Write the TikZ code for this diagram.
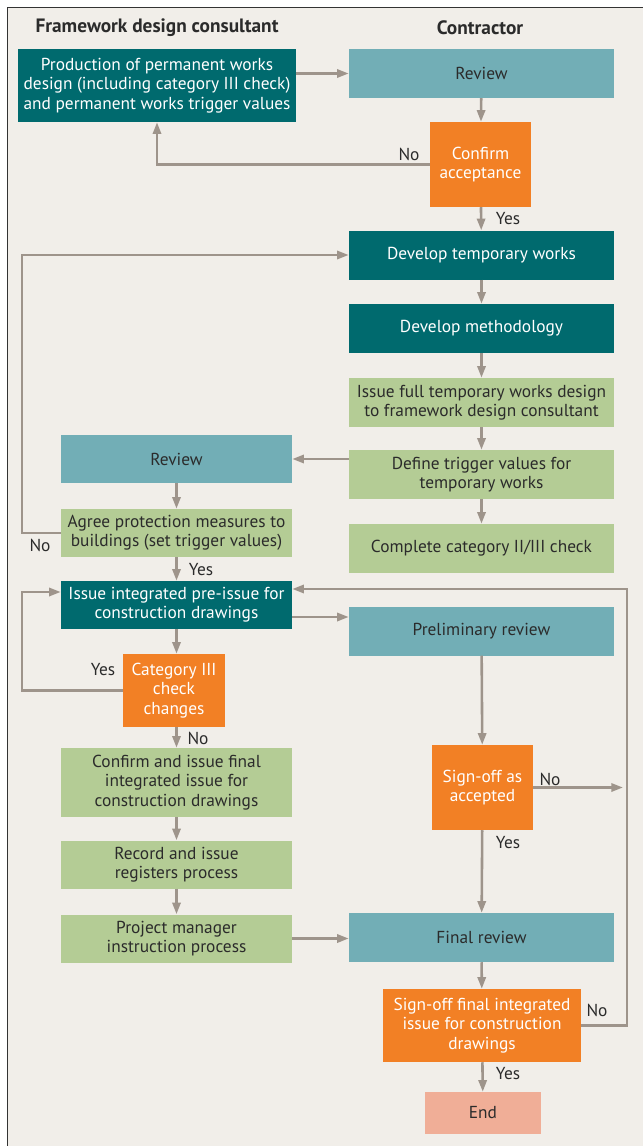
\documentclass[tikz,border=0pt]{standalone}
\usepackage{fontspec}
\setmainfont{PT Sans}
\usepackage{tikz}
\usetikzlibrary{arrows.meta,positioning,calc}

\definecolor{bgbeige}{HTML}{F1EEE9}
\definecolor{framegray}{HTML}{333333}
\definecolor{darkteal}{HTML}{006A6E}
\definecolor{midteal}{HTML}{72AEB6}
\definecolor{lgreen}{HTML}{B4CC95}
\definecolor{dorange}{HTML}{F28025}
\definecolor{salmon}{HTML}{F0AE97}
\definecolor{linegray}{HTML}{9E948B}
\definecolor{txtdark}{HTML}{2B2B2B}

\begin{document}
\begin{tikzpicture}[
		x=0.03cm, y=-0.03cm,
		>={Triangle[length=10pt,width=7pt]},
		every node/.style={font=\fontsize{14.8}{16.4}\selectfont},
		box/.style={inner sep=0pt, align=center},
		wide/.style={box, minimum width=7.95cm, minimum height=1.47cm},
		narrow/.style={box, minimum width=6.93cm, minimum height=1.44cm},
		dteal/.style={fill=darkteal, text=white},
		mteal/.style={fill=midteal, text=txtdark},
		green/.style={fill=lgreen, text=txtdark},
		decide/.style={box, fill=dorange, text=white},
		lbl/.style={text=txtdark, inner sep=0pt},
		head/.style={text=txtdark, font=\fontsize{16.5}{18}\selectfont\bfseries},
		flow/.style={draw=linegray, line width=2.2pt, ->, color=linegray}
		]
		
		% --------------------------------------------------
		% Frame
		% --------------------------------------------------
		\useasboundingbox (0,0) rectangle (643,1146);
		\fill[bgbeige] (7.5,7.5) rectangle (643,1146);
		\draw[framegray, line width=1.6pt] (7.5,1146) -- (7.5,7.5) -- (643,7.5);
		
		% --------------------------------------------------
		% Column heads
		% --------------------------------------------------
		\node[head] (hconsult) at (157,28) {Framework design consultant};
		\node[head] (hcontract) at (480,28) {Contractor};
		
		% --------------------------------------------------
		% Contractor column
		% --------------------------------------------------
		\node[wide, mteal] (revC) at (481.5,73.5) {Review};
		\node[decide, minimum width=3.03cm, minimum height=2.55cm] (confirm) at (480.5,164.5) {Confirm\\acceptance};
		\node[wide, dteal] (devtw) at (481.5,255) {Develop temporary works};
		\node[wide, dteal] (devmeth) at (481.5,328.5) {Develop methodology};
		\node[wide, green] (issuefull) at (481.5,402.5) {Issue full temporary works design\\to framework design consultant};
		\node[wide, green] (define) at (481.5,474.5) {Define trigger values for\\temporary works};
		\node[wide, green] (complete) at (481.5,548.5) {Complete category II/III check};
		\node[wide, mteal] (prelim) at (481.5,631) {Preliminary review};
		\node[decide, minimum width=3.03cm, minimum height=2.55cm] (signacc) at (482.5,787.5) {Sign-off as\\accepted};
		\node[wide, mteal] (finrev) at (481.5,937.5) {Final review};
		\node[decide, minimum width=5.94cm, minimum height=2.19cm] (signfin) at (482,1025.5) {Sign-off final integrated\\issue for construction\\drawings};
		\node[box, fill=salmon, text=txtdark, minimum width=3.48cm, minimum height=1.26cm] (endn) at (483,1113) {End};
		
		% --------------------------------------------------
		% Consultant column
		% --------------------------------------------------
		\node[box, dteal, minimum width=8.34cm, minimum height=2.19cm] (prod) at (157,85.5) {Production of permanent works\\design (including category III check)\\and permanent works trigger values};
		\node[narrow, mteal] (revF) at (176.5,459) {Review};
		\node[narrow, green] (agree) at (176.5,533) {Agree protection measures to\\buildings (set trigger values)};
		\node[narrow, dteal] (preissue) at (176.5,605) {Issue integrated pre-issue for\\construction drawings};
		\node[decide, minimum width=3.03cm, minimum height=2.19cm] (catiii) at (174,690.5) {Category III\\check\\changes};
		\node[narrow, green, minimum height=2.07cm] (finalissue) at (176.5,782.5) {Confirm and issue final\\integrated issue for\\construction drawings};
		\node[narrow, green] (record) at (176.5,864.5) {Record and issue\\registers process};
		\node[narrow, green] (pm) at (176.5,938.5) {Project manager\\instruction process};
		
		% loop lines on the left and right
		\coordinate (lx) at (22,0);
		\coordinate (rx) at (627,0);
		
		% --------------------------------------------------
		% Connectors
		% --------------------------------------------------
		\draw[flow] (prod.east |- revC.west) -- (revC.west);
		\draw[flow] (revC) -- (confirm);
		\draw[flow] (confirm.west) -| (prod.south);
		\node[lbl] (no1) at (409,154) {No};
		\draw[flow] (confirm) -- (devtw);
		\node[lbl] (yes1) at (508,219) {Yes};
		
		\draw[flow] (devtw) -- (devmeth);
		\draw[flow] (devmeth) -- (issuefull);
		\draw[flow] (issuefull) -- (define);
		\draw[flow] (define) -- (complete);
		\draw[flow] (define.west |- revF.east) -- (revF.east);
		
		\draw[flow] (revF) -- (agree);
		\draw[flow] (agree.west) -- (agree.west -| lx) |- (devtw.west);
		\node[lbl] (no2) at (40,545) {No};
		\draw[flow] (agree) -- (preissue);
		\node[lbl] (yes2) at (201,570) {Yes};
		
		\draw[flow] (preissue.south) -- (preissue.south |- catiii.north);
		\draw[flow] (catiii.west) -- (catiii.west -| lx) |- ($(preissue.west)+(0,-13)$);
		\node[lbl] (yes3) at (103,670) {Yes};
		\draw[flow] (catiii.south -| finalissue.north) -- (finalissue.north);
		\node[lbl] (no3) at (198,738) {No};
		\draw[flow] (finalissue) -- (record);
		\draw[flow] (record) -- (pm);
		\draw[flow] (pm.east) -- (pm.east -| finrev.west);
		
		\draw[flow] ($(preissue.east)+(0,12)$) -- ($(prelim.west)+(0,-14)$);
		\draw[flow] (prelim) -- (signacc);
		\draw[flow] (signacc.east) -- ($(signacc.east -| rx)+(-4,0)$);
		\node[lbl] (no4) at (550,779) {No};
		\draw[flow] (signacc) -- (finrev);
		\node[lbl] (yes4) at (508,843) {Yes};
		\draw[flow] (finrev) -- (signfin);
		\draw[flow] (signfin.east) -| (rx |- 0,589) -- (preissue.east |- 0,589);
		\node[lbl] (no5) at (597,1010) {No};
		\draw[flow] (signfin) -- (endn);
		\node[lbl] (yes5) at (508,1074) {Yes};
		
	\end{tikzpicture}
\end{document}
